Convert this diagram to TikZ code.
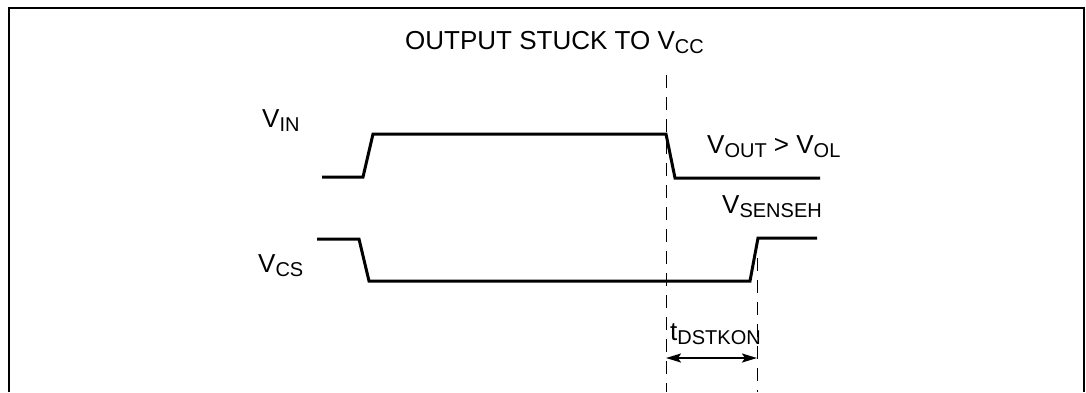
\documentclass[tikz,border=0pt]{standalone}
\usepackage{fontspec}
\setmainfont{Liberation Sans}
\usetikzlibrary{arrows.meta}
\newcommand\lsub[1]{\raisebox{-4.5pt}{\fontsize{20}{20}\selectfont #1}}
\begin{document}
\begin{tikzpicture}[x=1pt,y=-1pt,
  lbl/.style={anchor=base west,inner sep=0pt,font=\fontsize{26}{26}\selectfont},
  wave/.style={line width=3pt,line join=miter},
  guide/.style={line width=1pt,dash pattern=on 13pt off 9pt},
  span/.style={line width=2pt,{Stealth[length=15pt,width=9pt,inset=3pt]}-{Stealth[length=15pt,width=9pt,inset=3pt]}}]
\useasboundingbox (0,0) rectangle (1086,392);
% frame
\coordinate (fbl) at (9,392);
\coordinate (ftl) at (9,8);
\coordinate (ftr) at (1084,8);
\coordinate (fbr) at (1084,392);
\draw[line width=1.5pt] (fbl) -- (ftl) -- (ftr) -- (fbr);
% title and labels
\node[lbl] (title) at (405,49) {OUTPUT STUCK TO V\lsub{CC}};
\node[lbl] (vin) at (262,127) {V\lsub{IN}};
\node[lbl] (vcs) at (258,272) {V\lsub{CS}};
\node[lbl] (vout) at (707,153) {V\lsub{OUT} > V\lsub{OL}};
\node[lbl] (vsense) at (722,213) {V\lsub{SENSEH}};
\node[lbl] (tdst) at (670,340) {t\lsub{DSTKON}};
% V_IN waveform
\coordinate (i0) at (322,177);
\coordinate (i1) at (363,177);
\coordinate (i2) at (373,134);
\coordinate (i3) at (666,134);
\coordinate (i4) at (675,178);
\coordinate (i5) at (820,178);
\draw[wave] (i0) -- (i1) -- (i2) -- (i3) -- (i4) -- (i5);
% V_CS waveform
\coordinate (c0) at (317,239);
\coordinate (c1) at (359,239);
\coordinate (c2) at (369,281);
\coordinate (c3) at (750,281);
\coordinate (c4) at (758,238);
\coordinate (c5) at (817,238);
\draw[wave] (c0) -- (c1) -- (c2) -- (c3) -- (c4) -- (c5);
% guides
\coordinate (g1t) at (666,75);
\coordinate (g1b) at (666,392);
\coordinate (g2t) at (757,258);
\coordinate (g2b) at (757,392);
\draw[guide] (g1t) -- (g1b);
\draw[guide] (g2t) -- (g2b);
% delay arrow
\coordinate (a1) at (666,358);
\coordinate (a2) at (757,358);
\draw[span] (a1) -- (a2);
\end{tikzpicture}
\end{document}
